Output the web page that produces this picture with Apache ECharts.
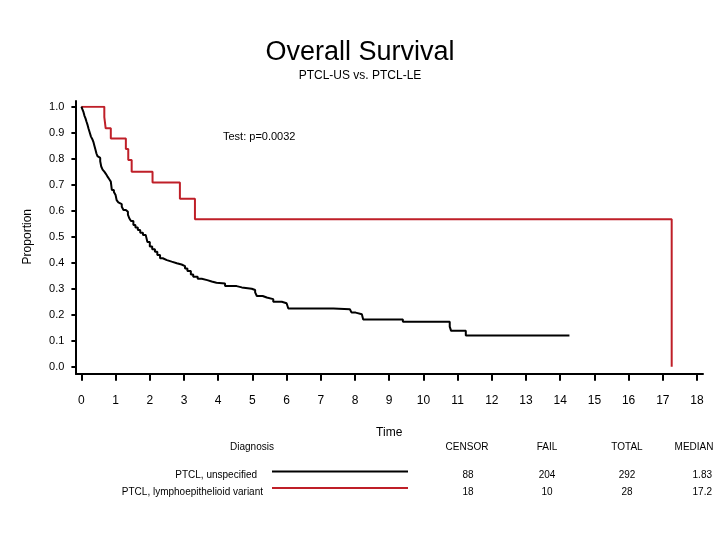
<!DOCTYPE html>
<html>
<head>
<meta charset="utf-8">
<script src="https://cdn.jsdelivr.net/npm/echarts@6/dist/echarts.min.js"></script>
<style>html,body{margin:0;padding:0;background:#fff}#c{width:720px;height:540px}</style>
</head>
<body>
<div id="c"></div>
<script>
// ---- data ----
const usTime = [0,0.03,0.06,0.09,0.12,0.15,0.18,0.21,0.25,0.28,0.32,0.35,0.38,0.41,0.44,0.47,0.51,0.55,0.58,0.62,0.67,0.72,0.77,0.82,0.86,0.89,0.95,1.0,1.03,1.08,1.13,1.18,1.23,1.30,1.36,1.40,1.45,1.52,1.58,1.65,1.72,1.80,1.88,1.93,2.0,2.07,2.15,2.22,2.30,2.38,2.50,2.64,2.79,2.93,3.03,3.10,3.20,3.27,3.40,3.52,3.68,3.81,3.95,4.20,4.54,4.69,4.98,5.08,5.13,5.30,5.42,5.61,5.86,6.00,6.05,7.37,7.85,7.90,8.02,8.20,8.24,9.40,10.77,10.81,11.24,14.27];
const usSurv = [1.0,0.99,0.98,0.965,0.955,0.942,0.93,0.915,0.898,0.885,0.875,0.865,0.85,0.835,0.82,0.81,0.803,0.79,0.77,0.758,0.75,0.741,0.73,0.72,0.712,0.68,0.672,0.66,0.641,0.632,0.625,0.615,0.603,0.596,0.585,0.571,0.56,0.545,0.535,0.526,0.515,0.507,0.50,0.48,0.462,0.452,0.442,0.43,0.417,0.41,0.404,0.398,0.393,0.387,0.378,0.368,0.355,0.346,0.338,0.333,0.328,0.323,0.320,0.310,0.305,0.300,0.295,0.286,0.272,0.266,0.260,0.250,0.244,0.237,0.224,0.221,0.214,0.208,0.202,0.199,0.182,0.173,0.154,0.138,0.120,0.120];
const leTime = [0,0.67,0.71,0.86,1.30,1.37,1.47,2.08,2.88,3.32,17.26];
const leSurv = [1.0,0.96,0.917,0.878,0.837,0.795,0.75,0.708,0.646,0.567,0.0];

const diagnosisNames = ['PTCL, unspecified', 'PTCL, lymphoepithelioid variant'];
const censorCounts = [88, 18];
const failCounts = [204, 10];
const totalCounts = [292, 28];
const medians = ['1.83', '17.2'];
const tableHeaders = ['Diagnosis', 'CENSOR', 'FAIL', 'TOTAL', 'MEDIAN'];
const testText = 'Test: p=0.0032';
const seriesColors = ['#000000', '#bf1f28'];

const FONT = 'Liberation Sans, Arial, sans-serif';
const zip = (a, b) => a.map((v, i) => [v, b[i]]);

const chart = echarts.init(document.getElementById('c'), null, {renderer: 'canvas'});

const txt = (x, y, text, align, size) => ({
  type: 'text', x: x, y: y,
  style: {text: String(text), fill: '#000', font: size + 'px ' + FONT, align: align, verticalAlign: 'middle'}
});

const graphics = [];
graphics.push(txt(223, 137, testText, 'left', 11));
// table header
const headX = [252, 467, 547, 627, 694];
tableHeaders.forEach((h, i) => graphics.push(txt(headX[i], 447, h, 'center', 10)));
const rowY = [475, 492];
const lineY = [471.5, 488];
const nameRight = [257, 263];
diagnosisNames.forEach((n, i) => {
  graphics.push(txt(nameRight[i], rowY[i], n, 'right', 10));
  graphics.push({type: 'line', shape: {x1: 272, y1: lineY[i], x2: 408, y2: lineY[i]},
    style: {stroke: seriesColors[i], lineWidth: 2}});
  graphics.push(txt(468, rowY[i], censorCounts[i], 'center', 10));
  graphics.push(txt(547, rowY[i], failCounts[i], 'center', 10));
  graphics.push(txt(627, rowY[i], totalCounts[i], 'center', 10));
  graphics.push(txt(712, rowY[i], medians[i], 'right', 10));
});

const option = {
  animation: false,
  backgroundColor: '#fff',
  title: {
    text: 'Overall Survival',
    subtext: 'PTCL-US vs. PTCL-LE',
    left: 'center', top: 34, itemGap: 4,
    textStyle: {fontFamily: FONT, fontSize: 27, fontWeight: 'normal', color: '#000'},
    subtextStyle: {fontFamily: FONT, fontSize: 12, color: '#000'}
  },
  grid: [
    {left: 81.4, right: 23, top: 106.7, bottom: 173.3},
    {left: 76, right: 17, top: 101, bottom: 166}
  ],
  xAxis: [
    {
      type: 'value', gridIndex: 0, min: 0, max: 18, interval: 1, offset: 7,
      name: 'Time', nameLocation: 'middle', nameGap: 53,
      nameTextStyle: {fontFamily: FONT, fontSize: 12, color: '#000'},
      axisLine: {show: false, onZero: false},
      axisTick: {show: true, length: 7, lineStyle: {color: '#000', width: 2}},
      axisLabel: {fontFamily: FONT, fontSize: 12, color: '#000', margin: 21},
      splitLine: {show: false}
    },
    {
      type: 'value', gridIndex: 1, min: 0, max: 1,
      axisLine: {show: true, onZero: false, lineStyle: {color: '#000', width: 2}},
      axisTick: {show: false}, axisLabel: {show: false}, splitLine: {show: false}
    }
  ],
  yAxis: [
    {
      type: 'value', gridIndex: 0, min: 0, max: 1, interval: 0.1, offset: 5,
      name: 'Proportion', nameLocation: 'middle', nameGap: 43,
      nameTextStyle: {fontFamily: FONT, fontSize: 12, color: '#000'},
      axisLine: {show: false, onZero: false},
      axisTick: {show: true, length: 5, lineStyle: {color: '#000', width: 2}},
      axisLabel: {fontFamily: FONT, fontSize: 11, color: '#000', margin: 12,
        formatter: v => v.toFixed(1)},
      splitLine: {show: false}
    },
    {
      type: 'value', gridIndex: 1, min: 0, max: 1,
      axisLine: {show: true, onZero: false, lineStyle: {color: '#000', width: 2}},
      axisTick: {show: false}, axisLabel: {show: false}, splitLine: {show: false}
    }
  ],
  series: [
    {
      name: diagnosisNames[1], type: 'line', step: 'end', xAxisIndex: 0, yAxisIndex: 0,
      data: zip(leTime, leSurv), showSymbol: false, silent: true,
      lineStyle: {color: seriesColors[1], width: 2}
    },
    {
      name: diagnosisNames[0], type: 'line', step: 'end', xAxisIndex: 0, yAxisIndex: 0,
      data: zip(usTime, usSurv), showSymbol: false, silent: true,
      lineStyle: {color: seriesColors[0], width: 2}
    }
  ],
  graphic: graphics
};
chart.setOption(option);
</script>
</body>
</html>
